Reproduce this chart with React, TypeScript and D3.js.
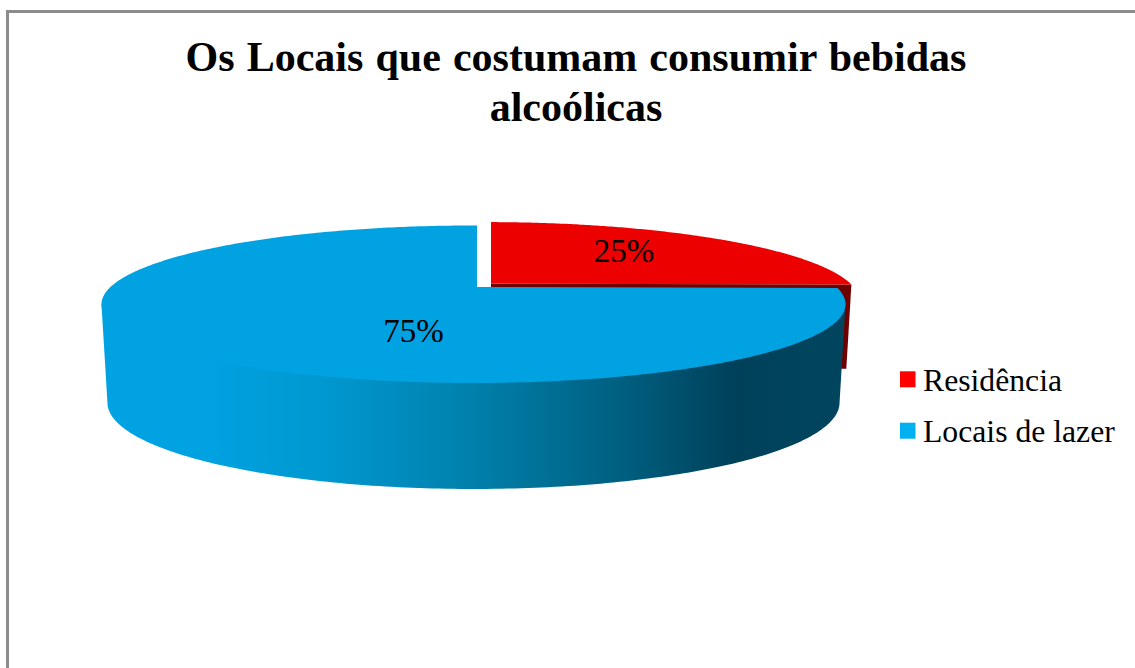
import React from "react";
import * as d3 from "d3";

const categories = ["Residência", "Locais de lazer"];
const shares = [25, 75];
const shareLabels = ["25%", "75%"];
const titleLines = ["Os Locais que costumam consumir bebidas", "alcoólicas"];
const colors = ["#ec0000", "#00a2e1"];
const legendColors = ["#ff0000", "#00b0f0"];
const sideStops: [number, string][] = [
  [0, "#00a2e1"],
  [0.14, "#00a2e1"],
  [0.3, "#0098d0"],
  [0.5, "#0080ab"],
  [0.7, "#005f80"],
  [0.85, "#00415a"],
  [1, "#00455f"],
];

const W = 1135;
const H = 668;

// Perspective model of the pie's top face
const cx = 473.5;
const yTop = 225.5;
const yApex = 287;
const yBottom = 383;
const c = (2 * yApex - yTop - yBottom) / (yBottom - yTop);
const b = yApex;
const aa = yBottom * (1 + c) - b;
const R = 363;
// Bottom rim, relative to the top rim
const cyTop = 304.5;
const cyBottom = 403;
const rxScale = 366.5 / 372.5;
const ryScale = 86 / 78.5;
const apexX = 477;
const startAngle = Math.asin(3.5 / (R / (1 - c)));
const explode = { x: 14, y: -3.4 };

type Pt = [number, number];

function rim(a: number, z = 0): Pt {
  const u = Math.sin(a);
  const v = -Math.cos(a);
  const den = 1 + c * v;
  const x = cx + (R * u) / den;
  const y = (aa * v + b) / den;
  const xb = cx + (x - cx) * rxScale;
  const yb = cyBottom + (y - cyTop) * ryScale;
  return [x + (xb - x) * z, y + (yb - y) * z];
}

const angles = (a0: number, a1: number, n = 180) =>
  d3.range(n + 1).map((i) => a0 + ((a1 - a0) * i) / n);

const line = d3.line<Pt>();
const shift = (p: Pt, on: boolean): Pt => (on ? [p[0] + explode.x, p[1] + explode.y] : p);

export default function App() {
  const arcs = d3
    .pie<number>()
    .sort(null)
    .startAngle(startAngle)
    .endAngle(2 * Math.PI + startAngle)(shares);
  const [red, blue] = arcs;

  const redTop = [
    shift([apexX, yApex], true),
    ...angles(red.startAngle, red.endAngle).map((a) => shift(rim(a), true)),
  ] as Pt[];
  const cutDepth = 0.87;
  const redCorner = shift(rim(red.endAngle), true);
  const redCornerLow = shift(rim(red.endAngle, cutDepth), true);
  const apexRed = shift([apexX, yApex], true);
  const redSide: Pt[] = [apexRed, redCorner, redCornerLow, [apexRed[0], redCornerLow[1]]];

  // The wall runs between the two points where the rim is widest on screen;
  // its upper edge passes under the top face so no seam shows along the rim.
  const silhouette = Math.asin(-c);
  const wallStart = Math.PI / 2 + silhouette;
  const wallEnd = (3 * Math.PI) / 2 - silhouette;
  const blueWall: Pt[] = [
    rim(wallStart),
    [apexX, yApex],
    rim(wallEnd),
    ...angles(wallEnd, wallStart).map((a) => rim(a, 1)),
  ];
  const blueTop: Pt[] = [[apexX, yApex], ...angles(blue.startAngle, blue.endAngle, 360).map((a) => rim(a))];

  const xs = d3.scaleLinear().domain([0, 1]).range([101, 846]);
  const legendY = d3.scaleBand<string>().domain(categories).range([353.6, 456.4]);
  const font = "'Liberation Serif', 'Times New Roman', serif";

  return (
    <svg
      width={W}
      height={H}
      viewBox={`0 0 ${W} ${H}`}
      style={{ position: "absolute", left: 0, top: 0, display: "block" }}
    >
      <defs>
        <linearGradient
          id="wall"
          gradientUnits="userSpaceOnUse"
          x1={xs(0)}
          x2={xs(1)}
          y1={0}
          y2={0}
        >
          {sideStops.map(([o, col]) => (
            <stop key={o} offset={o} stopColor={col} />
          ))}
        </linearGradient>
      </defs>
      <rect width={W} height={H} fill="#ffffff" />
      <path d={`M7.5 ${H}V11.5H${W}`} fill="none" stroke="#8c8c8c" strokeWidth={3} />

      <g fontFamily={font} fontWeight="bold" fontSize={42} textAnchor="middle" fill="#000">
        {titleLines.map((t, i) => (
          <text key={t} x={576} y={71 + i * 49.5} wordSpacing={1.6}>
            {t}
          </text>
        ))}
      </g>

      <path d={line(redSide) + "Z"} fill="#6e0000" />
      <path d={line(redTop) + "Z"} fill={colors[0]} />
      <path d={line(blueWall) + "Z"} fill="url(#wall)" />
      <path d={line(blueTop) + "Z"} fill={colors[1]} />

      <g fontFamily={font} fontSize={33} textAnchor="middle" fill="#000">
        <text x={624} y={262}>{shareLabels[0]}</text>
        <text x={413.5} y={342}>{shareLabels[1]}</text>
      </g>

      <g fontFamily={font} fontSize={31.7} fill="#000">
        {categories.map((name, i) => {
          const y = legendY(name)! + legendY.bandwidth() / 2;
          return (
            <g key={name} transform={`translate(0 ${y})`}>
              <rect x={900} y={-8} width={15.5} height={16} fill={legendColors[i]} />
              <text x={923} y={11.5}>{name}</text>
            </g>
          );
        })}
      </g>
    </svg>
  );
}
